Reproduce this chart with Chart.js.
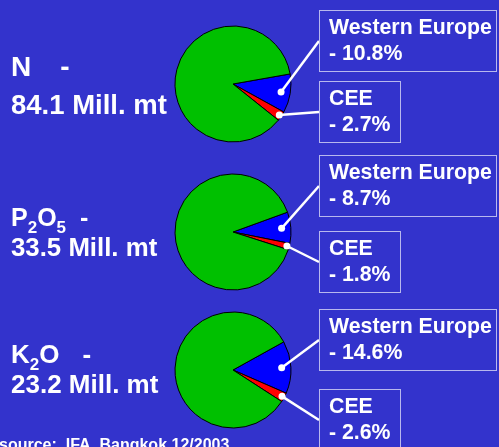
<!DOCTYPE html>
<html>
<head>
<meta charset="utf-8">
<script src="https://cdn.jsdelivr.net/npm/chart.js@4.4.1/dist/chart.umd.min.js"></script>
<style>
  html, body { margin: 0; padding: 0; }
  body {
    width: 499px; height: 447px; background: #3333cc; position: relative; overflow: hidden;
    font-family: "Liberation Sans", Arial, sans-serif; font-weight: bold; color: #fff;
  }
  canvas.pie { position: absolute; left: 0; }
  .label { position: absolute; left: 11px; white-space: pre; line-height: 1; }
  .label sub { font-size: 17px; vertical-align: baseline; position: relative; top: 7px; }
  .box {
    position: absolute; left: 319px; height: 62px; box-sizing: border-box;
    border: 1.5px solid #b8b8ee; padding: 3px 0 0 9px;
    font-size: 21.3px; line-height: 26px; white-space: pre;
  }
  .box.we { width: 178px; }
  .box.cee { width: 82px; }
  #source { position: absolute; left: -1px; top: 437px; font-size: 16px; line-height: 1; white-space: pre; }
</style>
</head>
<body>
<canvas class="pie" id="pie0" width="499" height="140" style="top:14px"></canvas>
<canvas class="pie" id="pie1" width="499" height="140" style="top:162px"></canvas>
<canvas class="pie" id="pie2" width="499" height="140" style="top:300px"></canvas>

<div class="label" style="top:53px; font-size:28px">N<span style="margin-left:29px">-</span></div>
<div class="label" style="top:91px; font-size:27.5px">84.1 Mill. mt</div>
<div class="label" style="top:205px; font-size:25px">P<sub>2</sub>O<sub>5</sub><span style="margin-left:14px">-</span></div>
<div class="label" style="top:235px; font-size:25.8px">33.5 Mill. mt</div>
<div class="label" style="top:341px; font-size:26px">K<sub>2</sub>O<span style="margin-left:23px">-</span></div>
<div class="label" style="top:371px; font-size:26px">23.2 Mill. mt</div>

<div class="box we" id="we0" style="top:10px"></div>
<div class="box cee" id="cee0" style="top:81px"></div>
<div class="box we" id="we1" style="top:155px"></div>
<div class="box cee" id="cee1" style="top:231px"></div>
<div class="box we" id="we2" style="top:309px"></div>
<div class="box cee" id="cee2" style="top:389px"></div>

<div id="source">source:  IFA, Bangkok 12/2003</div>

<script>
// shares of world consumption 2002/03, per nutrient
const nutrients = ["N", "P2O5", "K2O"];
const totals = [84.1, 33.5, 23.2]; // Mill. mt
const regions = ["Western Europe", "CEE", "Rest of world"];
const westernEurope = [10.8, 8.7, 14.6];
const cee = [2.7, 1.8, 2.6];
const restOfWorld = [86.5, 89.5, 82.8];

const sliceColors = ["#0000ff", "#ff0000", "#00c000"];
// start angle of the Western Europe slice, per pie
const rotations = [80, 70, 61];

//callout texts
for (let i = 0; i < nutrients.length; i++) {
  document.getElementById("we" + i).textContent = regions[0] + "\n- " + westernEurope[i] + "%";
  document.getElementById("cee" + i).textContent = regions[1] + "\n- " + cee[i] + "%";
}

//Plugin that draws the white pointer from a slice to its box
const leaderLines = {
  id: "leaderLines",
  afterDatasetsDraw(chart, args, opts) {
    const ctx = chart.ctx;
    const arcs = chart.getDatasetMeta(0).data;
    const canvas = chart.canvas;
    ctx.save();
    ctx.strokeStyle = "#fff";
    ctx.fillStyle = "#fff";
    ctx.lineWidth = 2.5;
    opts.boxes.forEach((id, k) => {
      const a = arcs[k].getProps(["x", "y", "startAngle", "endAngle", "outerRadius"], true);
      const mid = (a.startAngle + a.endAngle) / 2;
      const px = a.x + Math.cos(mid) * a.outerRadius * opts.depth[k];
      const py = a.y + Math.sin(mid) * a.outerRadius * opts.depth[k];
      const box = document.getElementById(id);
      const ax = box.offsetLeft - canvas.offsetLeft;
      const ay = box.offsetTop + box.offsetHeight / 2 - canvas.offsetTop;
      ctx.beginPath();
      ctx.moveTo(px, py);
      ctx.lineTo(ax, ay);
      ctx.stroke();
      ctx.beginPath();
      ctx.arc(px, py, 3.5, 0, Math.PI * 2);
      ctx.fill();
    });
    ctx.restore();
  },
};

const charts = nutrients.map((name, i) => new Chart(document.getElementById("pie" + i), {
  type: "pie",
  data: {
    labels: regions,
    datasets: [{
      data: [westernEurope[i], cee[i], restOfWorld[i]],
      backgroundColor: sliceColors,
      borderColor: "#000",
      borderWidth: 1,
    }],
  },
  options: {
    responsive: false,
    animation: false,
    rotation: rotations[i],
    radius: 58,
    layout: { padding: { left: 163, right: 196, top: 0, bottom: 0 } },
    plugins: {
      legend: { display: false },
      tooltip: { enabled: false },
      leaderLines: { boxes: ["we" + i, "cee" + i], depth: [0.84, 0.96] },
    },
  },
  plugins: [leaderLines],
}));
</script>
</body>
</html>
